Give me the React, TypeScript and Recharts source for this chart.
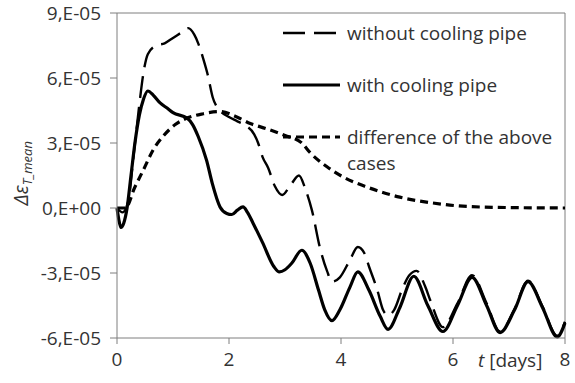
import { Label, Line, LineChart, ReferenceLine, XAxis, YAxis } from "recharts";

// t [days], strain difference in units of 1e-5
const withoutPipe: [number, number][] = [
  [0, 0], [0.1, -0.2], [0.2, 0.3], [0.3, 2.5], [0.4, 4.8], [0.47, 6.2], [0.55, 7.1],
  [0.7, 7.5], [0.85, 7.6], [1.0, 7.85], [1.15, 8.1], [1.27, 8.3], [1.38, 8.0],
  [1.45, 7.6], [1.55, 6.8], [1.62, 6.15], [1.71, 5.1], [1.84, 4.5], [2.0, 4.2],
  [2.15, 4.0], [2.3, 3.8], [2.45, 3.4], [2.52, 3.0], [2.6, 2.35], [2.7, 1.85],
  [2.82, 1.0], [2.95, 0.6], [3.1, 1.06], [3.25, 1.5], [3.36, 0.9], [3.48, -0.1],
  [3.63, -1.9], [3.75, -2.9], [3.84, -3.4], [3.98, -3.2], [4.16, -2.4], [4.3, -1.8],
  [4.42, -2.1], [4.5, -2.7], [4.65, -3.8], [4.75, -4.7], [4.84, -4.95], [4.95, -4.7],
  [5.1, -3.7], [5.22, -3.1], [5.35, -2.9], [5.5, -3.6], [5.6, -4.3], [5.82, -5.5],
  [6.08, -4.4], [6.34, -3.1], [6.6, -4.4], [6.84, -5.7], [7.1, -4.65], [7.34, -3.35],
  [7.6, -4.55], [7.86, -5.9], [8.0, -5.25],
];

const withPipe: [number, number][] = [
  [0, 0], [0.03, -0.5], [0.07, -0.9], [0.12, -0.7], [0.18, 0.0], [0.25, 1.5],
  [0.32, 3.0], [0.4, 4.3], [0.47, 5.0], [0.55, 5.4], [0.65, 5.2], [0.77, 4.85],
  [0.9, 4.6], [1.0, 4.4], [1.25, 4.15], [1.35, 3.85], [1.45, 3.3], [1.6, 2.2],
  [1.7, 1.15], [1.84, 0.05], [1.96, -0.25], [2.05, -0.3], [2.15, -0.1], [2.25, 0.05],
  [2.33, -0.2], [2.43, -0.7], [2.6, -1.6], [2.8, -2.7], [2.9, -2.95], [3.0, -2.85],
  [3.12, -2.55], [3.3, -1.95], [3.45, -2.55], [3.6, -3.8], [3.71, -4.7], [3.84, -5.2],
  [3.98, -4.7], [4.16, -3.65], [4.3, -2.95], [4.5, -3.8], [4.7, -5.0], [4.84, -5.6],
  [5.05, -4.6], [5.3, -3.15], [5.55, -4.5], [5.82, -5.7], [6.08, -4.5], [6.34, -3.2],
  [6.6, -4.5], [6.84, -5.75], [7.1, -4.7], [7.34, -3.4], [7.6, -4.6], [7.86, -5.95],
  [8.0, -5.3],
];

const difference: [number, number][] = [
  [0, 0], [0.15, 0.0], [0.32, 0.97], [0.47, 1.75], [0.65, 2.7], [0.82, 3.3],
  [1.04, 3.85], [1.25, 4.15], [1.54, 4.35], [1.84, 4.45], [2.14, 4.2], [2.38, 3.9],
  [2.68, 3.65], [3.0, 3.35], [3.3, 3.0], [3.45, 2.55], [3.75, 1.9], [4.04, 1.43],
  [4.46, 0.97], [5.05, 0.5], [5.64, 0.23], [6.25, 0.07], [7.0, 0.02], [8.0, 0],
];

const xTicks = [0, 2, 4, 6, 8];
const yTicks = [-6, -3, 0, 3, 6, 9];
const yTickLabels = ["-6,E-05", "-3,E-05", "0,E+00", "3,E-05", "6,E-05", "9,E-05"];
const seriesNames = ["without cooling pipe", "with cooling pipe", "difference of the above cases"];

const FONT = "'Open Sans', sans-serif";
const AXIS = "#7f7f7f";

const toPoints = (rows: [number, number][]) => rows.map(([t, v]) => ({ t, v }));

const styles = [
  { dash: "22 9", width: 2.4 },
  { dash: undefined, width: 3.2 },
  { dash: "8 5", width: 3.2 },
];

// legend sits inside the plot with no frame, drawn over the chart
function LegendBox() {
  const rows = [15, 67, 119];
  return (
    <svg
      width={280}
      height={170}
      style={{ position: "absolute", left: 280, top: 18, overflow: "visible" }}
    >
      {seriesNames.map((name, i) => (
        <g key={name}>
          <line
            x1={3}
            x2={60}
            y1={rows[i]}
            y2={rows[i]}
            stroke="#000"
            strokeWidth={styles[i].width}
            strokeDasharray={styles[i].dash}
          />
          <text x={67} y={rows[i]} dy="0.35em" fontFamily={FONT} fontSize={19} fill="#333">
            {i === 2 ? (
              <>
                <tspan>difference of the above</tspan>
                <tspan x={67} dy="1.4em">cases</tspan>
              </>
            ) : (
              name
            )}
          </text>
        </g>
      ))}
    </svg>
  );
}

export default function App() {
  return (
    <div style={{ position: "absolute", left: 0, top: 0, width: 575, height: 383 }}>
      <LineChart width={575} height={383} margin={{ top: 13, right: 10, bottom: 0, left: 0 }}>
        <XAxis
          dataKey="t"
          type="number"
          domain={[0, 8]}
          ticks={xTicks}
          allowDuplicatedCategory={false}
          height={45}
          stroke={AXIS}
          tickSize={6}
          tickMargin={9}
          tick={{ fill: "#333", fontFamily: FONT, fontSize: 19 }}
        >
          <Label
            content={({ viewBox }: any) => (
              <text
                x={viewBox.x + viewBox.width - 87}
                y={viewBox.y + 29}
                fontFamily={FONT}
                fontSize={19}
                fill="#333"
              >
                <tspan fontStyle="italic">t</tspan> [days]
              </text>
            )}
          />
        </XAxis>
        <YAxis
          type="number"
          domain={[-6, 9]}
          ticks={yTicks}
          width={117}
          stroke={AXIS}
          tickSize={7}
          tickMargin={9}
          tickFormatter={(v: number) => yTickLabels[yTicks.indexOf(v)]}
          tick={{ fill: "#333", fontFamily: FONT, fontSize: 19 }}
        >
          <Label
            content={({ viewBox }: any) => (
              <text
                transform={`translate(28, ${viewBox.y + viewBox.height / 2 + 30}) rotate(-90)`}
                fontFamily={FONT}
                fontStyle="italic"
                fontSize={20}
                fill="#333"
              >
                Δε
                <tspan fontSize={13} dy={4}>T_mean</tspan>
              </text>
            )}
          />
        </YAxis>
        <ReferenceLine y={9} stroke={AXIS} strokeWidth={1} />
        <ReferenceLine x={8} stroke={AXIS} strokeWidth={1} />
        <Line
          data={toPoints(withoutPipe)}
          dataKey="v"
          name={seriesNames[0]}
          type="monotone"
          stroke="#000"
          strokeWidth={styles[0].width}
          strokeDasharray={styles[0].dash}
          dot={false}
          isAnimationActive={false}
        />
        <Line
          data={toPoints(withPipe)}
          dataKey="v"
          name={seriesNames[1]}
          type="monotone"
          stroke="#000"
          strokeWidth={styles[1].width}
          dot={false}
          isAnimationActive={false}
        />
        <Line
          data={toPoints(difference)}
          dataKey="v"
          name={seriesNames[2]}
          type="monotone"
          stroke="#000"
          strokeWidth={styles[2].width}
          strokeDasharray={styles[2].dash}
          dot={false}
          isAnimationActive={false}
        />
      </LineChart>
      <LegendBox />
    </div>
  );
}
